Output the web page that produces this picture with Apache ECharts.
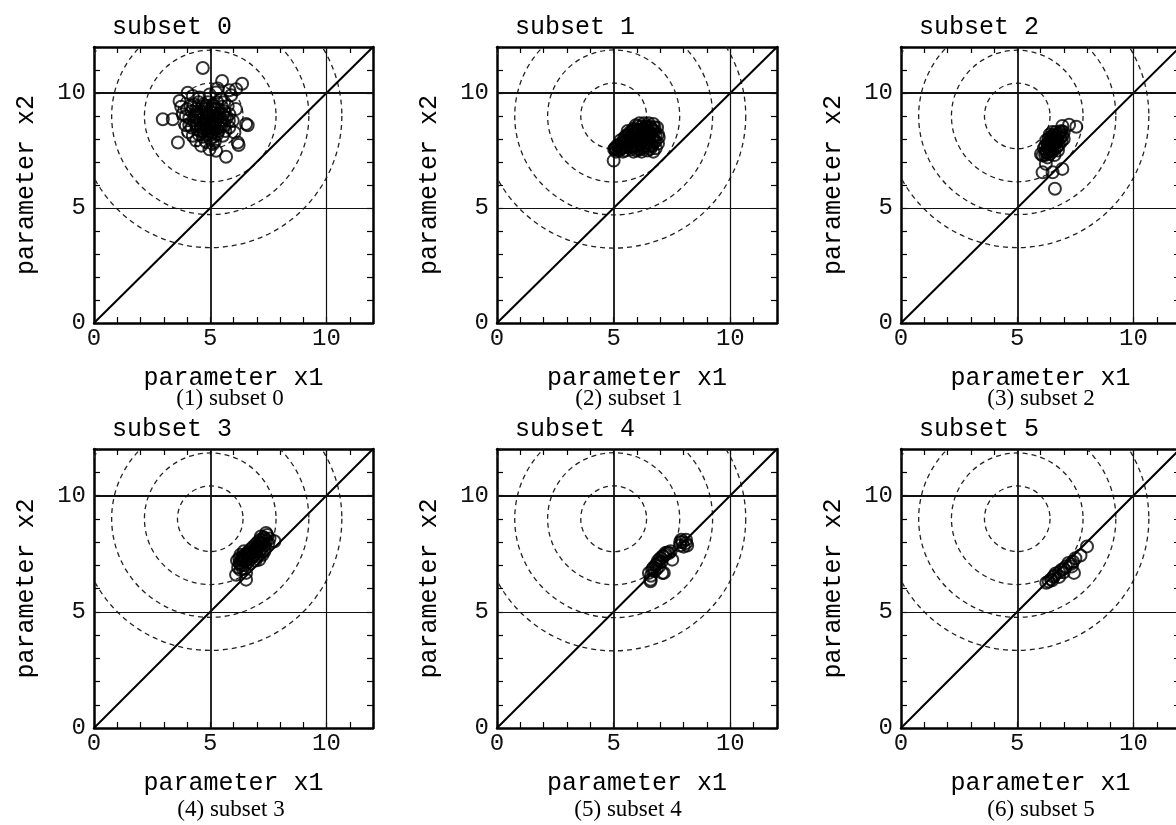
<!DOCTYPE html>
<html>
<head>
<meta charset="utf-8">
<script src="https://cdn.jsdelivr.net/npm/echarts@6/dist/echarts.min.js"></script>
<style>
html, body { margin: 0; padding: 0; background: #fff; }
#chart { width: 1176px; height: 825px; }
</style>
</head>
<body>
<div id="chart"></div>
<script>
// data
const panelTitles = ['subset 0', 'subset 1', 'subset 2', 'subset 3', 'subset 4', 'subset 5'];
const captions = ['(1) subset 0', '(2) subset 1', '(3) subset 2', '(4) subset 3', '(5) subset 4', '(6) subset 5'];
const xName = 'parameter x1';
const yName = 'parameter x2';
const axisRange = [0, 12];
const labelTicks = [0, 5, 10];
const refLines = [5, 10];
const diagLine = [[0, 0], [12, 12]];
// dashed contours: centre x, centre y, radius
const contours = [[5, 9, 1.41], [5, 9, 2.83], [5, 9, 4.24], [5, 9, 5.66]];

const subset0 = [
  [4.68, 11.09], [5.51, 10.52], [6.37, 10.40], [5.82, 10.12], [5.32, 10.20], [6.11, 10.16], [5.25, 10.02],
  [4.03, 10.01], [3.68, 9.65], [3.75, 9.40], [3.82, 9.08], [2.96, 8.86], [3.39, 8.86], [3.61, 7.85],
  [6.54, 8.65], [6.61, 8.60], [6.18, 7.85], [6.22, 7.74], [5.68, 7.23], [5.25, 7.49], [4.97, 7.55],
  [4.61, 7.71], [4.39, 7.93], [4.25, 8.14], [5.54, 8.14], [5.82, 8.50], [6.04, 8.28], [5.97, 8.79],
  [5.82, 9.08], [5.75, 9.44], [5.47, 9.73], [4.25, 9.87], [4.54, 9.80], [4.97, 9.94], [5.90, 9.90],
  [3.95, 8.60], [4.05, 8.30], [6.10, 9.30],
  [4.30, 9.50], [4.50, 9.60], [4.70, 9.50], [4.90, 9.60], [5.10, 9.50], [5.30, 9.60], [5.50, 9.40],
  [4.20, 9.20], [4.40, 9.30], [4.60, 9.20], [4.80, 9.30], [5.00, 9.20], [5.20, 9.30], [5.40, 9.10],
  [5.60, 9.20], [4.10, 8.90], [4.30, 8.80], [4.50, 9.00], [4.70, 8.90], [4.90, 8.80], [5.10, 9.00],
  [5.30, 8.90], [5.50, 8.80], [5.70, 8.90], [4.20, 8.50], [4.40, 8.60], [4.60, 8.50], [4.80, 8.60],
  [5.00, 8.50], [5.20, 8.60], [5.40, 8.50], [5.60, 8.60], [4.50, 8.20], [4.70, 8.30], [4.90, 8.20],
  [5.10, 8.30], [5.30, 8.20], [5.00, 8.00], [4.80, 7.90], [5.20, 7.90], [4.95, 9.00], [5.05, 8.70],
  [4.85, 9.10], [5.15, 8.80], [4.75, 8.70], [4.55, 8.80], [5.35, 9.30], [4.65, 9.40], [5.25, 9.00],
  [4.45, 8.40], [5.45, 8.70], [4.00, 9.30], [4.10, 8.60], [3.95, 9.00], [5.60, 9.60], [5.80, 8.80],
  [4.35, 9.05], [5.55, 9.05], [5.05, 9.35], [4.75, 8.45], [5.35, 8.35], [4.15, 9.45], [5.65, 8.35],
  [4.95, 8.35], [5.15, 8.10],
  [4.62, 9.08], [4.88, 8.95], [5.12, 9.12], [5.38, 8.98], [4.72, 8.62], [4.98, 8.62], [5.22, 8.72],
  [5.48, 8.58], [4.58, 8.35], [4.85, 8.42], [5.08, 8.45], [5.28, 8.45], [4.68, 8.10], [5.02, 8.18],
  [4.82, 9.45], [5.18, 9.42], [4.42, 9.18], [5.62, 8.95], [4.38, 8.92], [5.12, 7.78]
];
const subset1 = [
  [5.00, 7.06], [5.02, 7.55], [5.05, 7.60], [5.10, 7.45], [5.15, 7.72], [5.20, 7.50], [5.25, 7.70],
  [5.30, 7.95], [5.35, 7.60], [5.40, 7.80], [5.45, 8.05], [5.50, 7.50], [5.50, 7.90], [5.55, 8.15],
  [5.60, 7.70], [5.65, 8.00], [5.70, 8.30], [5.75, 7.55], [5.75, 7.85], [5.80, 8.10], [5.85, 8.45],
  [5.90, 7.70], [5.90, 8.25], [5.95, 8.60], [6.00, 7.50], [6.00, 7.95], [6.05, 8.40], [6.10, 8.68],
  [6.10, 7.75], [6.15, 8.15], [6.20, 8.55], [6.25, 7.60], [6.25, 7.95], [6.30, 8.35], [6.30, 8.68],
  [6.35, 7.80], [6.40, 8.15], [6.40, 8.55], [6.45, 7.50], [6.50, 7.95], [6.50, 8.68], [6.55, 8.30],
  [6.57, 7.57], [6.60, 7.75], [6.60, 8.50], [6.65, 8.10], [6.70, 8.65], [6.75, 7.90], [6.75, 8.35],
  [6.80, 7.60], [6.86, 8.50], [6.90, 8.20], [6.93, 8.07], [6.90, 7.80], [5.60, 8.35], [5.85, 7.45],
  [6.20, 7.45], [5.40, 7.45], [6.70, 7.45],
  [5.10, 7.60], [5.20, 7.65], [5.30, 7.55], [5.30, 7.80], [5.40, 7.65], [5.45, 7.90], [5.50, 8.10],
  [5.55, 7.75], [5.60, 7.95], [5.65, 8.20], [5.70, 7.65], [5.70, 7.95], [5.75, 8.15], [5.80, 8.35],
  [5.85, 7.65], [5.85, 7.95], [5.90, 8.40], [5.95, 8.10], [6.00, 8.30], [6.00, 7.70], [6.05, 8.55],
  [6.05, 7.60], [6.10, 7.95], [6.15, 8.40], [6.15, 7.55], [6.20, 8.00], [6.20, 8.25], [6.25, 8.45],
  [6.30, 7.65], [6.30, 8.10], [6.35, 8.50], [6.35, 7.95], [6.40, 7.70], [6.45, 8.35], [6.45, 8.00],
  [6.50, 7.65], [6.50, 8.15], [6.55, 8.55], [6.55, 7.85], [6.60, 8.25], [6.65, 7.70], [6.65, 8.40],
  [6.70, 8.00], [6.75, 8.50], [6.80, 8.15], [6.80, 7.90]
];
const subset2 = [
  [6.62, 5.84], [6.09, 6.55], [6.52, 6.55], [6.94, 6.70], [6.23, 6.92], [6.09, 7.28], [6.02, 7.35],
  [6.94, 8.57], [7.23, 8.62], [7.54, 8.53],
  [6.20, 7.30], [6.25, 7.50], [6.20, 7.70], [6.30, 7.40], [6.30, 7.80], [6.35, 7.60], [6.35, 8.00],
  [6.40, 7.35], [6.40, 7.75], [6.45, 7.55], [6.45, 8.10], [6.50, 7.90], [6.50, 7.45], [6.55, 7.70],
  [6.55, 8.20], [6.60, 7.55], [6.60, 8.00], [6.65, 7.85], [6.65, 8.30], [6.70, 7.65], [6.70, 8.10],
  [6.75, 7.95], [6.80, 8.25], [6.80, 7.75], [6.85, 8.05], [6.90, 7.90], [6.90, 8.35], [6.95, 8.15],
  [7.00, 8.00], [6.30, 7.20], [6.15, 7.60], [6.25, 7.95], [6.40, 8.20], [6.50, 8.30], [6.60, 7.30],
  [6.75, 7.50], [7.00, 8.30],
  [6.25, 7.40], [6.30, 7.65], [6.35, 7.85], [6.40, 7.50], [6.45, 7.75], [6.50, 7.60], [6.55, 7.95],
  [6.60, 7.80], [6.65, 8.05], [6.70, 7.90], [6.75, 8.20], [6.60, 8.15], [6.50, 8.05], [6.85, 8.30]
];
const subset3 = [
  [6.11, 6.59], [6.54, 6.38], [6.54, 6.67], [6.50, 7.00], [7.11, 7.24], [7.33, 7.60], [7.76, 8.03],
  [7.40, 8.39], [7.18, 8.24],
  [6.20, 6.90], [6.25, 7.10], [6.25, 7.30], [6.30, 6.80], [6.35, 7.00], [6.35, 7.25], [6.40, 7.40],
  [6.45, 7.15], [6.40, 6.85], [6.50, 7.30], [6.55, 7.50], [6.60, 7.10], [6.60, 7.35], [6.65, 7.60],
  [6.70, 7.25], [6.70, 7.45], [6.75, 7.70], [6.80, 7.35], [6.80, 7.55], [6.85, 7.80], [6.90, 7.45],
  [6.90, 7.65], [6.95, 7.90], [7.00, 7.55], [7.00, 7.75], [7.05, 8.00], [7.10, 7.60], [7.10, 7.85],
  [7.15, 8.10], [7.20, 7.70], [7.25, 7.95], [7.30, 8.20], [7.35, 7.85], [7.40, 8.05], [7.45, 8.30],
  [7.50, 7.95], [7.55, 8.15], [6.30, 7.45], [6.15, 7.20], [6.45, 7.60], [6.95, 7.20], [7.25, 7.45],
  [6.30, 7.10], [6.40, 7.20], [6.45, 7.35], [6.55, 7.25], [6.60, 7.50], [6.65, 7.40], [6.75, 7.50],
  [6.85, 7.60], [6.95, 7.70], [7.05, 7.75], [7.15, 7.95], [7.25, 8.10], [7.35, 8.15], [6.85, 7.40],
  [7.00, 7.40]
];
const subset4 = [
  [7.85, 7.85], [7.95, 8.00], [8.10, 7.95], [8.00, 7.80], [7.90, 8.10], [8.10, 8.10], [8.15, 7.85],
  [7.85, 8.00],
  [6.58, 6.31], [6.51, 6.67], [7.15, 6.67], [7.51, 7.24], [6.94, 7.10], [7.22, 7.53], [7.44, 7.60],
  [7.08, 6.67], [6.58, 6.38], [6.65, 6.81], [6.87, 7.10], [7.15, 7.38], [7.37, 7.53], [6.70, 6.90],
  [6.80, 7.00], [6.90, 7.20], [7.00, 7.30], [7.10, 7.40], [7.20, 7.45], [6.75, 6.75], [6.60, 6.55],
  [7.30, 7.55], [6.95, 6.95], [7.05, 7.15], [6.85, 6.85]
];
const subset5 = [
  [8.00, 7.81], [7.72, 7.42], [7.50, 7.30], [7.40, 7.15], [7.44, 6.67], [7.30, 7.05], [7.10, 6.95],
  [7.00, 6.85], [6.90, 6.80], [6.80, 6.70], [6.65, 6.65], [6.80, 6.50], [6.55, 6.50], [6.45, 6.40],
  [6.35, 6.30], [6.25, 6.25], [6.50, 6.35], [7.20, 7.10], [7.00, 6.70], [6.60, 6.55], [7.35, 6.95]
];
const subsets = [subset0, subset1, subset2, subset3, subset4, subset5];

// layout of the six panels
const gridBoxes = [
  { left: 94, top: 47, width: 279, height: 276 },
  { left: 497, top: 47, width: 280, height: 276 },
  { left: 901, top: 47, width: 279, height: 276 },
  { left: 94, top: 449, width: 279, height: 279 },
  { left: 497, top: 449, width: 280, height: 279 },
  { left: 901, top: 449, width: 279, height: 279 }
];
const captionX = [230, 629, 1041, 231, 628, 1041];
const captionY = [399, 399, 399, 810, 810, 810];

const monoFont = '"Liberation Mono", "Courier New", monospace';
const serifFont = '"Liberation Serif", "Times New Roman", serif';

function tickLabel(v) {
  return labelTicks.indexOf(v) >= 0 ? String(v) : '';
}

function axisBase(i, pos) {
  return {
    gridIndex: i,
    type: 'value',
    position: pos,
    min: axisRange[0],
    max: axisRange[1],
    interval: 1,
    axisLine: { show: true, onZero: false, lineStyle: { color: '#000', width: 2.5 } },
    axisTick: { show: true, inside: true, length: 6, lineStyle: { color: '#000', width: 1.2 } },
    splitLine: { show: false }
  }
}

const grids = []
const xAxes = []
const yAxes = []
const series = []
const titles = []
const graphics = []

gridBoxes.forEach(function(box, i) {
  grids.push(Object.assign({ outerBoundsMode: 'none', containLabel: false }, box))

  const xb = axisBase(i, 'bottom')
  xb.axisLabel = { formatter: tickLabel, fontFamily: monoFont, fontSize: 24, color: '#111', margin: 4 }
  xb.name = xName
  xb.nameLocation = 'middle'
  xb.nameGap = 43
  xb.nameTextStyle = { fontFamily: monoFont, fontSize: 25, color: '#000' }
  const xt = axisBase(i, 'top')
  xt.axisLabel = { show: false }
  xAxes.push(xb, xt)

  const yl = axisBase(i, 'left')
  yl.axisLabel = { formatter: tickLabel, fontFamily: monoFont, fontSize: 24, color: '#111', margin: 8 }
  yl.name = yName
  yl.nameLocation = 'middle'
  yl.nameRotate = 90
  yl.nameGap = 55
  yl.nameTextStyle = { fontFamily: monoFont, fontSize: 25, color: '#000' }
  const yr = axisBase(i, 'right')
  yr.axisLabel = { show: false }
  yAxes.push(yl, yr)

  // dashed contour circles
  series.push({
    type: 'custom',
    xAxisIndex: i * 2,
    yAxisIndex: i * 2,
    clip: true,
    silent: true,
    z: 1,
    data: contours,
    renderItem: function(params, api) {
      const c = api.coord([api.value(0), api.value(1)])
      const r = api.size([api.value(2), 0])[0]
      return {
        type: 'circle',
        shape: { cx: c[0], cy: c[1], r: r },
        style: { fill: 'none', stroke: '#222', lineWidth: 1.3, lineDash: [5, 4] }
      }
    }
  })

  // diagonal x1 = x2 and the reference lines at 5 / 10
  series.push({
    type: 'line',
    xAxisIndex: i * 2,
    yAxisIndex: i * 2,
    data: diagLine,
    symbol: 'none',
    silent: true,
    z: 2,
    lineStyle: { color: '#000', width: 2 },
    markLine: {
      silent: true,
      symbol: ['none', 'none'],
      label: { show: false },
      lineStyle: { color: '#111', type: 'solid', width: 1.2 },
      data: [
        { xAxis: refLines[0], lineStyle: { width: 1.8 } },
        { xAxis: refLines[1] },
        { yAxis: refLines[0] },
        { yAxis: refLines[1], lineStyle: { width: 1.8 } }
      ]
    }
  })

  series.push({
    type: 'scatter',
    xAxisIndex: i * 2,
    yAxisIndex: i * 2,
    data: subsets[i],
    symbol: 'circle',
    symbolSize: 12,
    z: 5,
    itemStyle: { color: 'rgba(0,0,0,0)', borderColor: '#000', borderWidth: 2 },
    emphasis: { disabled: true }
  })

  titles.push({
    text: panelTitles[i],
    left: box.left + 18,
    top: box.top - 32,
    padding: 0,
    textStyle: { fontFamily: monoFont, fontSize: 25, fontWeight: 'normal', color: '#000' }
  })

  graphics.push({
    type: 'text',
    x: captionX[i],
    y: captionY[i],
    style: {
      text: captions[i],
      fontFamily: serifFont,
      fontSize: 23,
      fill: '#000',
      align: 'center',
      verticalAlign: 'middle',
      textAlign: 'center',
      textVerticalAlign: 'middle'
    }
  })
})

const myChart = echarts.init(document.getElementById('chart'))
myChart.setOption({
  backgroundColor: '#fff',
  animation: false,
  title: titles,
  grid: grids,
  xAxis: xAxes,
  yAxis: yAxes,
  series: series,
  graphic: graphics
})
</script>
</body>
</html>
